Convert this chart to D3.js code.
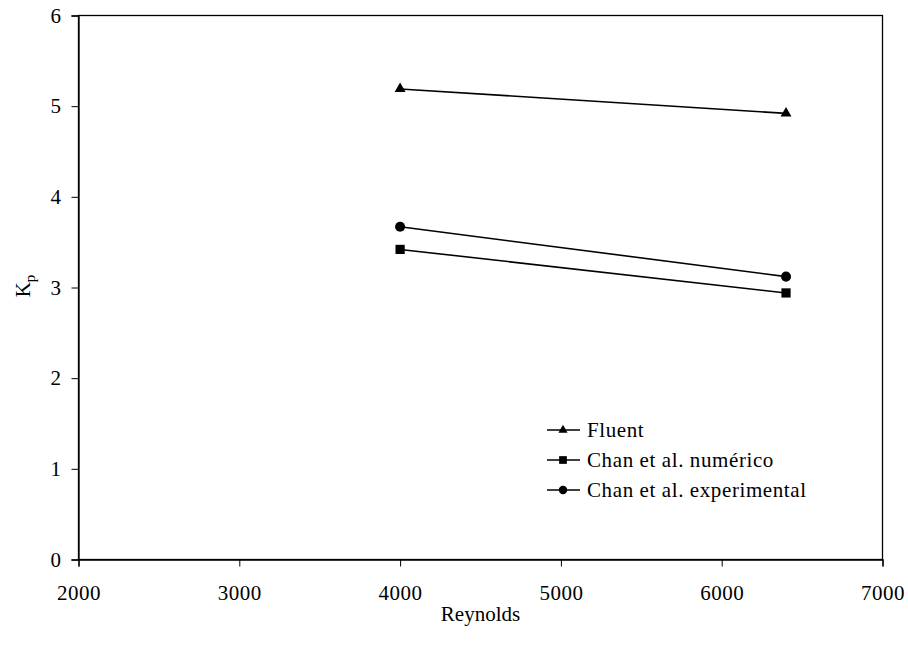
<!DOCTYPE html>
<html>
<head>
<meta charset="utf-8">
<script src="https://cdn.jsdelivr.net/npm/d3@7"></script>
<style>
body { margin: 0; background: #fff; }
text { font-family: "Liberation Serif", "DejaVu Serif", serif; fill: #000; }
</style>
</head>
<body>
<div id="canvas"></div>
<script>
let reynolds = [4000, 6400]
let seriesNames = ['Fluent', 'Chan et al. numérico', 'Chan et al. experimental']
let fluent = [5.19, 4.92]
let chanNum = [3.42, 2.94]
let chanExp = [3.67, 3.12]
let xTicks = [2000, 3000, 4000, 5000, 6000, 7000]
let yTicks = [0, 1, 2, 3, 4, 5, 6]

let series = [
    {name: seriesNames[0], values: fluent, symbol: d3.symbolTriangle, size: 52},
    {name: seriesNames[1], values: chanNum, symbol: d3.symbolSquare, size: 85},
    {name: seriesNames[2], values: chanExp, symbol: d3.symbolCircle, size: 80}
]

let W = 908, H = 653
let m = {left: 78.5, top: 15.5, right: 882.5, bottom: 559.5}

let svg = d3.select('#canvas').append('svg')
    .attr('width', W).attr('height', H)

let xScale = d3.scaleLinear().domain([2000, 7000]).range([m.left, m.right])
let yScale = d3.scaleLinear().domain([0, 6]).range([m.bottom, m.top])

// marco del grafico
svg.append('rect')
    .attr('x', m.left).attr('y', m.top)
    .attr('width', m.right - m.left).attr('height', m.bottom - m.top)
    .style('fill', 'none').style('stroke', '#000').style('stroke-width', 1.3)

let yAxis = d3.axisLeft(yScale).tickValues(yTicks).tickSize(7).tickPadding(10)
    .tickFormat(d3.format('d'))
let xAxis = d3.axisBottom(xScale).tickValues(xTicks).tickSize(7).tickPadding(19)
    .tickFormat(d3.format('d'))

svg.append('g').attr('transform', `translate(${m.left},0)`).call(yAxis)
svg.append('g').attr('transform', `translate(0,${m.bottom})`).call(xAxis)

svg.selectAll('.domain').style('stroke', '#000').style('stroke-width', 1.3)
svg.selectAll('.tick line').style('stroke', '#000').style('stroke-width', 1)
svg.selectAll('.tick text')
    .style('font-family', '"Liberation Serif", serif')
    .style('font-size', '21px').style('fill', '#000')
    .style('letter-spacing', '0.5px')

// titulos de ejes
svg.append('text')
    .attr('x', (m.left + m.right) / 2).attr('y', 621)
    .attr('text-anchor', 'middle')
    .style('font-size', '21px')
    .text('Reynolds')

let ylab = svg.append('text')
    .attr('transform', 'translate(30,286) rotate(-90)')
    .attr('text-anchor', 'middle')
    .style('font-size', '21px')
ylab.append('tspan').text('K')
ylab.append('tspan').attr('dy', 5).style('font-size', '15px').text('p')

let line = d3.line()
    .x((d, i) => xScale(reynolds[i]))
    .y(d => yScale(d))

series.forEach(s => {
    svg.append('path')
        .attr('d', line(s.values))
        .style('fill', 'none').style('stroke', '#000').style('stroke-width', 1.6)
    svg.selectAll(null)
        .data(s.values)
        .enter()
        .append('path')
        .attr('d', d3.symbol().type(s.symbol).size(s.size))
        .attr('transform', (d, i) => `translate(${xScale(reynolds[i])},${yScale(d)})`)
        .style('fill', '#000')
})

// leyenda
let legend = svg.append('g').attr('transform', 'translate(547,430)')
series.forEach((s, i) => {
    let g = legend.append('g').attr('transform', `translate(0,${i * 30})`)
    g.append('line').attr('x1', 0).attr('x2', 33).attr('y1', 0).attr('y2', 0)
        .style('stroke', '#000').style('stroke-width', 1.6)
    g.append('path')
        .attr('d', d3.symbol().type(s.symbol).size(s.size * 0.7))
        .attr('transform', 'translate(16,0)')
        .style('fill', '#000')
    g.append('text').attr('x', 40).attr('y', 7)
        .style('font-size', '21px')
        .style('letter-spacing', '0.6px')
        .text(s.name)
})
</script>
</body>
</html>
